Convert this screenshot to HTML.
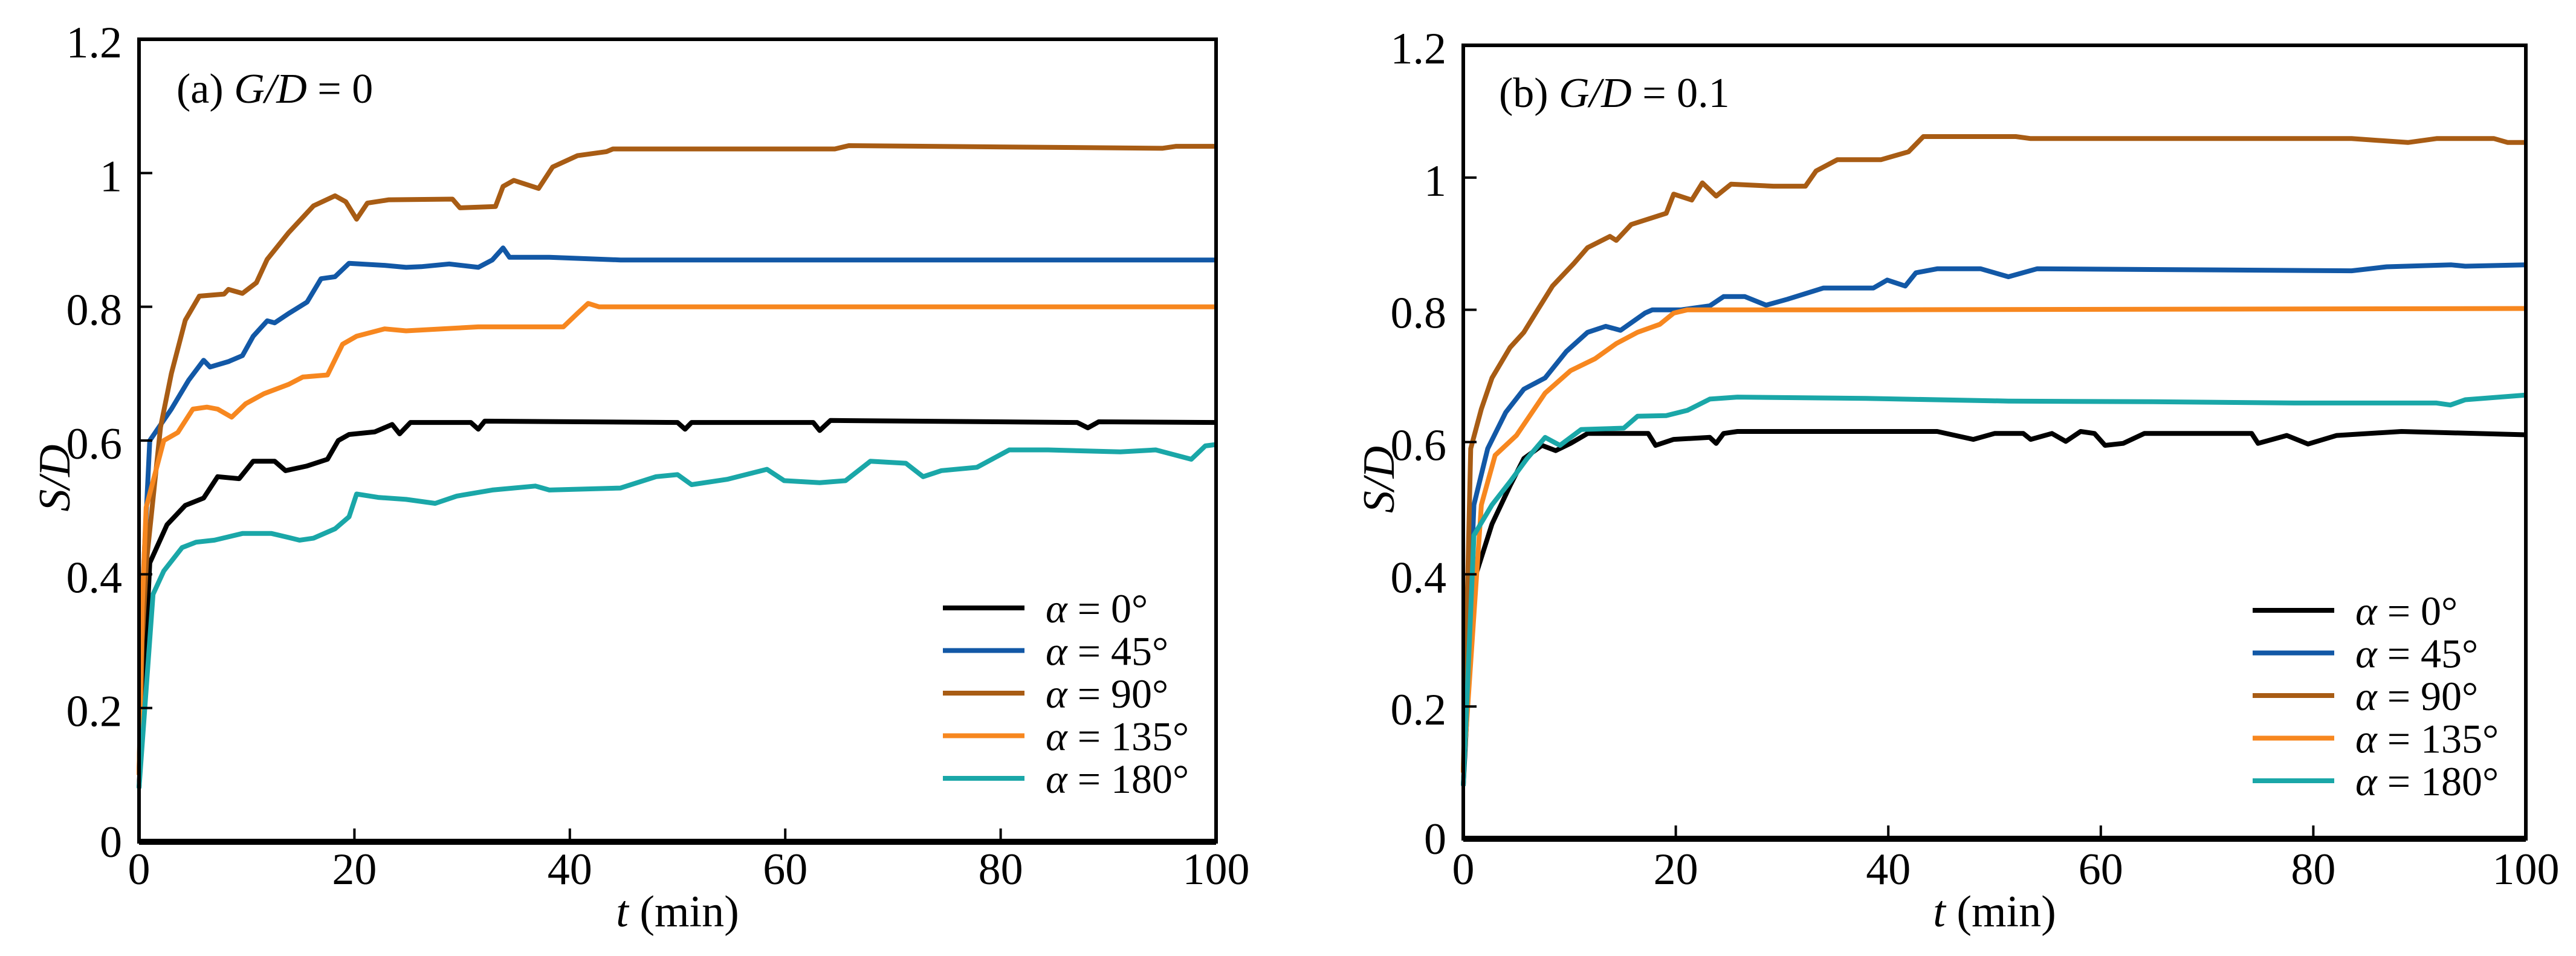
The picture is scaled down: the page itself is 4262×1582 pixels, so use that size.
<!DOCTYPE html>
<html><head><meta charset="utf-8"><style>
html,body{margin:0;padding:0;background:#fff;}
svg{display:block;font-family:"Liberation Serif",serif;}
</style></head><body>
<svg id="chart" width="4262" height="1582" viewBox="0 0 4262 1582"></svg>
<script>
const xTicks=[0,20,40,60,80,100];
const yTicks=[0,0.2,0.4,0.6,0.8,1,1.2];
const yTickLabels=["0","0.2","0.4","0.6","0.8","1","1.2"];
const seriesNames=["α = 0°","α = 45°","α = 90°","α = 135°","α = 180°"];
const seriesColors=["#000000","#1258a6","#a85c14","#f7871f","#1aa7a8"];

// Panel (a) G/D = 0
const a0_t=[0,1.0,2.6,4.3,6.0,7.3,9.3,10.6,12.6,13.6,15.6,17.5,18.5,19.5,21.9,23.5,24.2,25.2,30.8,31.5,32.1,50.0,50.7,51.3,62.6,63.2,64.2,87.1,88.1,89.1,100];
const a0_v=[0.08,0.417,0.474,0.503,0.514,0.546,0.543,0.569,0.569,0.555,0.562,0.572,0.60,0.609,0.613,0.624,0.61,0.627,0.627,0.617,0.629,0.627,0.617,0.627,0.627,0.615,0.630,0.627,0.619,0.628,0.627];
const a45_t=[0,0.4,1.0,3.0,4.6,6.0,6.6,8.3,9.6,10.6,11.9,12.6,13.9,15.6,16.9,18.2,19.5,22.8,24.8,26.2,28.8,31.5,32.8,33.8,34.4,38.1,44.7,100];
const a45_v=[0.1,0.4,0.60,0.647,0.69,0.72,0.71,0.718,0.727,0.756,0.779,0.776,0.79,0.807,0.842,0.845,0.865,0.862,0.859,0.860,0.864,0.859,0.870,0.888,0.874,0.874,0.870,0.870];
const a90_t=[0,0.3,0.7,2.0,3.0,4.3,5.6,7.9,8.3,9.6,10.9,11.9,13.9,16.2,18.2,19.2,20.2,21.2,23.2,29.1,29.8,33.1,33.8,34.8,37.1,38.4,40.7,43.4,44.0,64.6,65.9,95.0,96.3,100];
const a90_v=[0.1,0.3,0.42,0.62,0.70,0.78,0.816,0.819,0.826,0.82,0.836,0.871,0.911,0.951,0.966,0.957,0.931,0.955,0.960,0.961,0.948,0.95,0.98,0.989,0.977,1.009,1.026,1.032,1.036,1.036,1.041,1.037,1.04,1.04];
const a135_t=[0,0.3,0.66,2.3,3.6,5.0,6.3,7.3,8.6,9.9,11.6,13.9,15.2,17.5,18.9,20.2,22.8,24.8,31.5,39.4,40.7,41.7,42.7,100];
const a135_v=[0.1,0.35,0.50,0.60,0.612,0.647,0.65,0.647,0.635,0.655,0.67,0.684,0.695,0.698,0.744,0.756,0.767,0.764,0.770,0.770,0.79,0.805,0.80,0.80];
const a180_t=[0,1.3,2.3,4.0,5.3,7.0,8.3,9.6,12.3,13.9,14.9,16.2,18.2,19.5,20.2,22.2,24.8,27.5,29.5,32.8,36.8,38.1,44.7,48.0,50.0,51.3,54.6,56.6,58.3,59.9,63.2,65.6,67.9,71.2,72.8,74.5,77.8,80.8,84.4,91.1,94.4,97.7,99.0,100];
const a180_v=[0.08,0.37,0.405,0.44,0.448,0.451,0.456,0.461,0.461,0.455,0.451,0.454,0.468,0.486,0.52,0.515,0.512,0.506,0.517,0.526,0.532,0.526,0.529,0.546,0.549,0.534,0.542,0.55,0.557,0.54,0.537,0.54,0.569,0.566,0.546,0.555,0.56,0.586,0.586,0.583,0.586,0.572,0.592,0.594];

// Panel (b) G/D = 0.1
const b0_t=[0,1.0,2.7,4.4,5.7,7.4,8.7,10.1,11.7,13.1,17.4,18.1,19.8,23.2,23.8,24.5,25.8,44.6,48.0,50.0,52.7,53.4,55.4,56.7,58.1,59.4,60.4,62.1,64.1,74.2,74.8,77.5,79.5,82.2,88.3,100];
const b0_v=[0.08,0.39,0.476,0.534,0.575,0.595,0.587,0.598,0.613,0.613,0.613,0.595,0.604,0.607,0.598,0.613,0.616,0.616,0.604,0.613,0.613,0.604,0.613,0.601,0.616,0.613,0.595,0.598,0.613,0.613,0.598,0.61,0.597,0.61,0.616,0.611];
const b45_t=[0,1.0,2.3,4.0,5.7,7.7,9.7,11.7,13.4,14.8,17.1,17.8,20.5,23.2,24.5,26.5,28.5,30.5,33.9,38.6,39.9,41.6,42.6,44.6,48.7,51.3,54.0,83.6,86.9,93.0,94.3,100];
const b45_v=[0.1,0.505,0.59,0.645,0.68,0.697,0.737,0.766,0.775,0.769,0.795,0.80,0.80,0.806,0.82,0.82,0.807,0.816,0.833,0.833,0.845,0.836,0.856,0.862,0.862,0.85,0.862,0.859,0.865,0.868,0.866,0.868];
const b90_t=[0,0.7,1.7,2.7,4.4,5.7,7.0,8.4,10.4,11.7,13.8,14.4,15.8,19.1,19.8,21.5,22.5,23.8,25.2,29.2,32.2,33.2,35.2,39.3,41.9,43.3,52.0,53.4,83.6,88.9,91.6,97.0,98.3,100];
const b90_v=[0.1,0.59,0.65,0.697,0.743,0.766,0.80,0.836,0.87,0.894,0.911,0.905,0.929,0.946,0.975,0.966,0.992,0.972,0.99,0.987,0.987,1.01,1.027,1.027,1.039,1.062,1.062,1.059,1.059,1.053,1.059,1.059,1.053,1.053];
const b135_t=[0,1.7,3.0,5.0,7.7,10.1,12.4,14.4,16.4,18.5,19.8,21.1,24.5,37.9,100];
const b135_v=[0.1,0.505,0.58,0.61,0.674,0.708,0.726,0.749,0.766,0.778,0.795,0.80,0.80,0.80,0.802];
const b180_t=[0,1.0,2.7,4.4,6.0,7.7,9.1,11.1,15.1,16.4,19.1,21.1,23.2,25.8,37.9,51.3,64.8,78.2,91.6,92.9,94.3,100];
const b180_v=[0.08,0.459,0.505,0.54,0.575,0.607,0.595,0.619,0.621,0.639,0.64,0.648,0.665,0.668,0.666,0.662,0.661,0.659,0.659,0.656,0.664,0.671];

const panels=[
 {id:'a',x0:230,x1:2012,y0:65,y1:1393,label:'(a) ',gd:'0',lx:292,ly:170,
  series:[[a0_t,a0_v],[a45_t,a45_v],[a90_t,a90_v],[a135_t,a135_v],[a180_t,a180_v]]},
 {id:'b',x0:2421,x1:4179,y0:75,y1:1388,label:'(b) ',gd:'0.1',lx:2480,ly:177,
  series:[[b0_t,b0_v],[b45_t,b45_v],[b90_t,b90_v],[b135_t,b135_v],[b180_t,b180_v]]}
];
const NS='http://www.w3.org/2000/svg';
const svg=document.getElementById('chart');
function mk(tag,attrs,parent){const e=document.createElementNS(NS,tag);for(const k in attrs)e.setAttribute(k,attrs[k]);(parent||svg).appendChild(e);return e;}

panels.forEach(p=>{
 const g=mk('g',{});
 
 
 const sx=t=>p.x0+(t/100)*(p.x1-p.x0);
 const sy=v=>p.y1-(v/1.2)*(p.y1-p.y0);
 p.series.forEach((s,i)=>{
  let d='';
  s[0].forEach((t,j)=>{d+=(j?'L':'M')+sx(t).toFixed(1)+' '+sy(s[1][j]).toFixed(1);});
  const path=mk('path',{d:d,fill:'none',stroke:seriesColors[i],'stroke-width':8,'stroke-linejoin':'round'},g);
  
  
 });
 const fr=mk('rect',{x:p.x0,y:p.y0,width:p.x1-p.x0,height:p.y1-p.y0,fill:'none',stroke:'#000','stroke-width':6},g);
 
 
 const bl=mk('line',{x1:p.x0,x2:p.x1,y1:p.y1,y2:p.y1,stroke:'#000','stroke-width':10},g);
 
 
 xTicks.forEach(t=>{
  if(t>0&&t<100){const tk=mk('line',{x1:sx(t),x2:sx(t),y1:p.y1,y2:p.y1-22,stroke:'#000','stroke-width':4},g);
   
   }
  const tl=mk('text',{x:sx(t),y:1463,'font-size':74,'text-anchor':'middle'},g);
  tl.textContent=String(t);
  
  
 });
 yTicks.forEach((v,i)=>{
  if(v>0&&v<1.2){const tk=mk('line',{x1:p.x0,x2:p.x0+22,y1:sy(v),y2:sy(v),stroke:'#000','stroke-width':4},g);
   
   }
  const tl=mk('text',{x:p.x0-28,y:sy(v)+(v===0?25:30),'font-size':74,'text-anchor':'end'},g);
  tl.textContent=yTickLabels[i];
  
  
 });
 const xt=mk('text',{x:(p.x0+p.x1)/2,y:1533,'font-size':74,'text-anchor':'middle'},g);
 xt.innerHTML='<tspan font-style="italic">t</tspan> (min)';
 
 
 const ytx=p.x0-115, yty=(p.y0+p.y1)/2+62;
 const yt=mk('text',{x:ytx,y:yty,'font-size':74,'text-anchor':'middle','font-style':'italic',transform:'rotate(-90 '+ytx+' '+yty+')'},g);
 yt.textContent='S/D';
 
 
 const pl=mk('text',{x:p.lx,y:p.ly,'font-size':70},g);
 pl.innerHTML=p.label+'<tspan font-style="italic">G/D</tspan> = '+p.gd;
 
 
 const lg=mk('g',{},g);
 
 
 const lx0=p.x1-452, ly0=(p.id==='a'?1006:1010);
 seriesNames.forEach((n,i)=>{
  const yy=ly0+i*70.5;
  const ln=mk('line',{x1:lx0,x2:lx0+135,y1:yy,y2:yy,stroke:seriesColors[i],'stroke-width':8},lg);
  
  
  const tx=mk('text',{x:lx0+170,y:yy+24,'font-size':68},lg);
  tx.innerHTML='<tspan font-style="italic">α</tspan>'+n.slice(1);
  
  
 });
});
</script>
</body></html>
